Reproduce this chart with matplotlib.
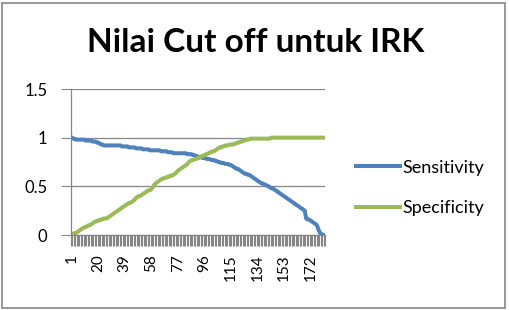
import matplotlib.pyplot as plt
from matplotlib.patches import Rectangle

# cut-off index 1..182
sensitivity = [
    1.00, 0.99, 0.99, 0.98, 0.98, 0.98, 0.98, 0.98, 0.98, 0.98,
    0.97, 0.97, 0.97, 0.97, 0.97, 0.96, 0.96, 0.96, 0.95, 0.95,
    0.94, 0.93, 0.93, 0.92, 0.92, 0.92, 0.92, 0.92, 0.92, 0.92,
    0.92, 0.92, 0.92, 0.92, 0.92, 0.92, 0.91, 0.91, 0.91, 0.91,
    0.91, 0.90, 0.90, 0.90, 0.90, 0.90, 0.89, 0.89, 0.89, 0.89,
    0.89, 0.88, 0.88, 0.88, 0.88, 0.88, 0.87, 0.87, 0.87, 0.87,
    0.87, 0.87, 0.87, 0.87, 0.86, 0.86, 0.86, 0.86, 0.86, 0.85,
    0.85, 0.85, 0.85, 0.84, 0.84, 0.84, 0.84, 0.84, 0.84, 0.84,
    0.84, 0.84, 0.84, 0.83, 0.83, 0.83, 0.83, 0.82, 0.82, 0.81,
    0.81, 0.80, 0.80, 0.80, 0.79, 0.79, 0.79, 0.78, 0.78, 0.78,
    0.77, 0.77, 0.77, 0.76, 0.76, 0.75, 0.75, 0.74, 0.74, 0.74,
    0.73, 0.73, 0.73, 0.72, 0.72, 0.71, 0.70, 0.69, 0.68, 0.68,
    0.67, 0.66, 0.65, 0.64, 0.63, 0.63, 0.62, 0.62, 0.61, 0.60,
    0.59, 0.58, 0.57, 0.56, 0.55, 0.54, 0.53, 0.53, 0.52, 0.51,
    0.51, 0.50, 0.49, 0.48, 0.48, 0.47, 0.46, 0.45, 0.44, 0.43,
    0.42, 0.41, 0.40, 0.39, 0.38, 0.37, 0.36, 0.35, 0.34, 0.33,
    0.32, 0.31, 0.30, 0.29, 0.28, 0.27, 0.26, 0.25, 0.17, 0.16,
    0.16, 0.15, 0.14, 0.13, 0.12, 0.11, 0.09, 0.05, 0.02, 0.01,
    0.00, 0.00,
]

specificity = [
    0.00, 0.01, 0.02, 0.02, 0.03, 0.04, 0.05, 0.06, 0.07, 0.08,
    0.08, 0.09, 0.10, 0.10, 0.11, 0.12, 0.13, 0.14, 0.14, 0.15,
    0.15, 0.16, 0.16, 0.17, 0.17, 0.17, 0.18, 0.19, 0.20, 0.21,
    0.22, 0.23, 0.24, 0.25, 0.26, 0.27, 0.28, 0.29, 0.30, 0.31,
    0.32, 0.33, 0.33, 0.34, 0.35, 0.36, 0.38, 0.39, 0.40, 0.40,
    0.41, 0.42, 0.43, 0.44, 0.45, 0.46, 0.46, 0.47, 0.49, 0.51,
    0.53, 0.54, 0.55, 0.56, 0.57, 0.58, 0.58, 0.59, 0.59, 0.60,
    0.60, 0.61, 0.61, 0.62, 0.63, 0.64, 0.66, 0.67, 0.68, 0.69,
    0.70, 0.71, 0.72, 0.73, 0.75, 0.76, 0.77, 0.77, 0.78, 0.78,
    0.79, 0.79, 0.80, 0.81, 0.81, 0.82, 0.83, 0.83, 0.84, 0.85,
    0.85, 0.86, 0.86, 0.87, 0.88, 0.89, 0.90, 0.90, 0.91, 0.91,
    0.92, 0.92, 0.92, 0.93, 0.93, 0.93, 0.93, 0.94, 0.94, 0.95,
    0.95, 0.96, 0.96, 0.97, 0.97, 0.98, 0.98, 0.98, 0.99, 0.99,
    0.99, 0.99, 0.99, 0.99, 0.99, 0.99, 0.99, 0.99, 0.99, 0.99,
    0.99, 0.99, 0.99, 1.00, 1.00, 1.00, 1.00, 1.00, 1.00, 1.00,
    1.00, 1.00, 1.00, 1.00, 1.00, 1.00, 1.00, 1.00, 1.00, 1.00,
    1.00, 1.00, 1.00, 1.00, 1.00, 1.00, 1.00, 1.00, 1.00, 1.00,
    1.00, 1.00, 1.00, 1.00, 1.00, 1.00, 1.00, 1.00, 1.00, 1.00,
    1.00, 1.00,
]

categories = list(range(1, len(sensitivity) + 1))
tick_labels = categories[::19]

plt.rcParams['font.family'] = ['Lato', 'DejaVu Sans']
grey = '#868686'

fig = plt.figure(figsize=(5.1, 3.1), dpi=100)
fig.patches.append(Rectangle((2 / 510, 2 / 310), 503 / 510, 305 / 310,
                             transform=fig.transFigure, fill=False,
                             edgecolor=grey, linewidth=1.2))

ax = fig.add_axes([71 / 510, 75 / 310, 254 / 510, 146 / 310])
ax.plot(categories, sensitivity, color='#4F81BD', lw=2.9, label='Sensitivity',
        solid_joinstyle='round')
ax.plot(categories, specificity, color='#9BBB59', lw=2.9, label='Specificity',
        solid_joinstyle='round')

ax.set_xlim(0.5, len(categories) + 0.5)
ax.set_ylim(0, 1.5)
ax.set_yticks([0, 0.5, 1, 1.5])
ax.set_yticklabels(['0', '0.5', '1', '1.5'], fontsize=12)
ax.yaxis.grid(True, color=grey, lw=0.9)
ax.set_axisbelow(True)

ax.set_xticks(tick_labels)
ax.set_xticklabels([str(t) for t in tick_labels], rotation=90, fontsize=11,
                   va='top', ha='center')
ax.set_xticks([c + 0.5 for c in [0] + categories], minor=True)
ax.tick_params(axis='x', which='major', length=0, pad=14)
ax.tick_params(axis='x', which='minor', length=8, width=0.8, color=grey)
ax.tick_params(axis='y', length=7, width=0.8, color=grey, pad=10)

for side in ['top', 'right']:
    ax.spines[side].set_visible(False)
for side in ['left', 'bottom']:
    ax.spines[side].set_color(grey)
    ax.spines[side].set_linewidth(0.9)

fig.text(256 / 510, 1 - 42 / 310, 'Nilai Cut off untuk IRK', fontsize=24,
         fontweight='bold', ha='center', va='center')

fig.legend(loc='center left', bbox_to_anchor=(340 / 510, 1 - 188 / 310),
           frameon=False, fontsize=13, handlelength=2.4, handletextpad=0.17,
           labelspacing=1.35)

fig.savefig('out.png', dpi=100)
